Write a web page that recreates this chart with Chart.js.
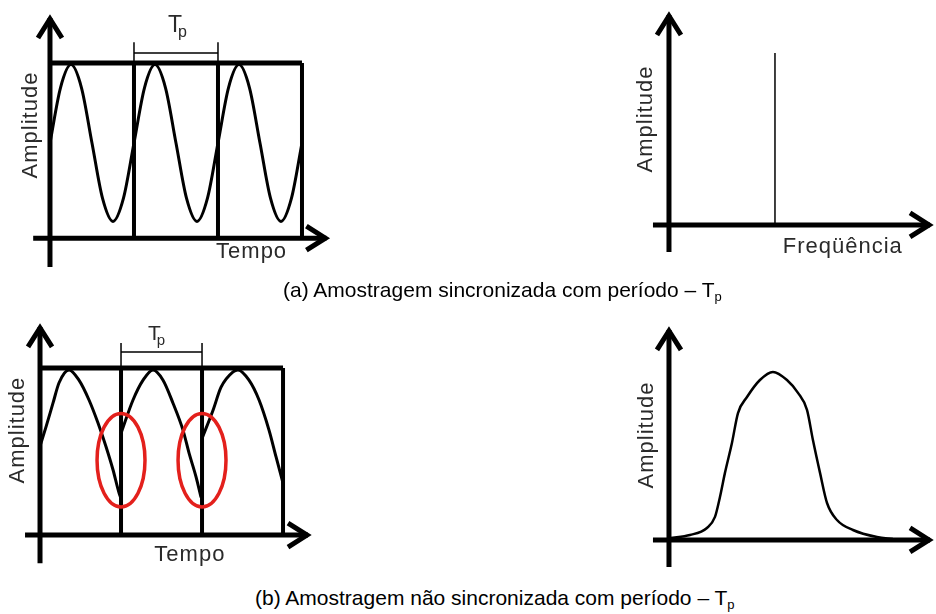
<!DOCTYPE html>
<html>
<head>
<meta charset="utf-8">
<script src="https://cdn.jsdelivr.net/npm/chart.js@4.4.1/dist/chart.umd.min.js"></script>
<style>
  html, body { margin: 0; padding: 0; background: #fff; }
  #page { position: relative; width: 936px; height: 614px; overflow: hidden; }
  #page canvas { position: absolute; }
  .caption { position: absolute; font-family: "Liberation Sans", Arial, sans-serif; font-size: 21px; color: #000; white-space: nowrap; }
  .caption sub { font-size: 0.62em; vertical-align: -0.3em; line-height: 0; }
</style>
</head>
<body>
<div id="page">
  <canvas id="syncTimeChart" width="345" height="280" style="left:0;top:0"></canvas>
  <canvas id="syncSpecChart" width="316" height="280" style="left:620px;top:0"></canvas>
  <canvas id="unsyncTimeChart" width="345" height="280" style="left:0;top:300px"></canvas>
  <canvas id="unsyncSpecChart" width="316" height="280" style="left:620px;top:300px"></canvas>
  <div class="caption" style="left:283px;top:278px">(a) Amostragem sincronizada com período – T<sub>p</sub></div>
  <div class="caption" style="left:255px;top:586px">(b) Amostragem não sincronizada com período – T<sub>p</sub></div>
</div>
<script>
// ── data ──
// (a) synchronized: time in periods (Tp), amplitude relative to the window top
const syncTime = [0, 0.125, 0.25, 0.375, 0.5, 0.625, 0.75, 0.875,
                  1, 1.125, 1.25, 1.375, 1.5, 1.625, 1.75, 1.875,
                  2, 2.125, 2.25, 2.375, 2.5, 2.625, 2.75, 2.875, 3];
const syncAmp  = [0, 0.69, 0.98, 0.69, 0, -0.69, -0.98, -0.69,
                  0, 0.69, 0.98, 0.69, 0, -0.69, -0.98, -0.69,
                  0, 0.69, 0.98, 0.69, 0, -0.69, -0.98, -0.69, 0];
const syncEdges = [1, 2];          // window boundaries
const syncFreq = [1];               // single spectral line
const syncMag  = [1];

// (b) not synchronized: the signal restarts at every window boundary
const unsyncTime = [
  [0, 0.074, 0.16, 0.235, 0.358, 0.481, 0.605, 0.716, 0.815, 0.901, 0.975, 1.0],
  [1.0, 1.148, 1.272, 1.395, 1.519, 1.642, 1.765, 1.84, 1.926, 1.988],
  [2.0, 2.136, 2.235, 2.383, 2.444, 2.58, 2.704, 2.827, 2.914, 3.0]
];
const unsyncAmp = [
  [-0.22, 0.08, 0.45, 0.77, 0.97, 0.81, 0.5, 0.14, -0.23, -0.59, -0.95, -1.04],
  [-0.02, 0.5, 0.81, 0.97, 0.81, 0.45, 0.03, -0.33, -0.7, -1.02],
  [-0.1, 0.34, 0.7, 0.94, 0.97, 0.81, 0.5, 0.03, -0.39, -0.8]
];
const unsyncEdges = [1, 2];
const jumpCenters = [1, 2];        // red marks around the discontinuities
const jumpLevel = -0.44;
// leaked spectrum
const leakFreq = [0.01, 0.198, 0.358, 0.434, 0.481, 0.528, 0.594, 0.651, 0.736, 0.858, 0.981,
                  1.113, 1.217, 1.302, 1.358, 1.425, 1.491, 1.585, 1.736, 1.962, 2.113];
const leakMag  = [0.012, 0.029, 0.07, 0.134, 0.25, 0.39, 0.564, 0.738, 0.831, 0.93, 0.977,
                  0.93, 0.855, 0.756, 0.581, 0.39, 0.215, 0.116, 0.058, 0.017, 0.006];

// ── helpers ──
const INK = '#000';
const LABEL_FONT = '"Liberation Sans", Arial, sans-serif';

function zip(xs, ys) { return xs.map((v, i) => ({ x: v, y: ys[i] })); }

function line(points, width, extra) {
  return Object.assign({
    data: points, showLine: true, pointRadius: 0, borderColor: INK,
    borderWidth: width, tension: 0, clip: false, borderJoinStyle: 'miter'
  }, extra || {});
}

// window frame: top edge, right edge and the inner boundary bars
function windowFrame(edges, end, top, floor) {
  const sets = [
    line([{ x: 0, y: top }, { x: end, y: top }], 5),
    line([{ x: end, y: floor }, { x: end, y: top }], 4)
  ];
  edges.forEach(e => sets.push(line([{ x: e, y: floor }, { x: e, y: top }], 4)));
  return sets;
}

function drawArrow(ctx, x0, y0, x1, y1) {
  const ang = Math.atan2(y1 - y0, x1 - x0);
  const len = Math.hypot(x1 - x0, y1 - y0);
  ctx.save();
  ctx.translate(x1, y1);
  ctx.rotate(ang);
  ctx.lineWidth = 5;
  ctx.lineCap = 'butt';
  ctx.beginPath(); ctx.moveTo(-len, 0); ctx.lineTo(-5, 0); ctx.stroke();
  ctx.lineJoin = 'miter';
  ctx.beginPath(); ctx.moveTo(-25, -12); ctx.lineTo(-6, 0); ctx.lineTo(-25, 12); ctx.stroke();
  ctx.restore();
}

function diagram(deco) {
  return {
    id: 'diagram',
    afterDatasetsDraw(chart) {
      const { ctx } = chart;
      const X = v => chart.scales.x.getPixelForValue(v);
      const Y = v => chart.scales.y.getPixelForValue(v);
      ctx.save();
      ctx.strokeStyle = INK;
      ctx.fillStyle = INK;

      const a = deco.axes;
      drawArrow(ctx, X(a.xFrom), Y(a.xAt), X(a.xTo), Y(a.xAt));
      drawArrow(ctx, X(a.yAt), Y(a.yFrom), X(a.yAt), Y(a.yTo));

      if (deco.bracket) {
        const b = deco.bracket;
        ctx.lineWidth = 1.5;
        ctx.beginPath();
        ctx.moveTo(X(b.from), Y(b.at)); ctx.lineTo(X(b.to), Y(b.at));
        ctx.moveTo(X(b.from), Y(b.tickLo)); ctx.lineTo(X(b.from), Y(b.tickHi));
        ctx.moveTo(X(b.to), Y(b.tickLo)); ctx.lineTo(X(b.to), Y(b.tickHi));
        ctx.stroke();
      }

      if (deco.marks) {
        const m = deco.marks;
        ctx.strokeStyle = '#e3201c';
        ctx.lineWidth = 3.5;
        m.centers.forEach(c => {
          const rx = Math.abs(X(c + m.rx) - X(c));
          const ry = Math.abs(Y(m.level + m.ry) - Y(m.level));
          ctx.beginPath();
          ctx.ellipse(X(c), Y(m.level), rx, ry, 0, 0, Math.PI * 2);
          ctx.stroke();
        });
      }

      ctx.fillStyle = '#2a2a2a';
      ctx.letterSpacing = '1px';
      (deco.labels || []).forEach(l => {
        ctx.save();
        ctx.font = l.size + 'px ' + LABEL_FONT;
        ctx.textAlign = 'center';
        ctx.textBaseline = 'alphabetic';
        ctx.translate(X(l.x), Y(l.y));
        if (l.vertical) ctx.rotate(-Math.PI / 2);
        ctx.fillText(l.text, 0, 0);
        ctx.restore();
      });

      if (deco.period) {
        const p = deco.period;
        ctx.letterSpacing = '0px';
        ctx.textAlign = 'left';
        ctx.textBaseline = 'alphabetic';
        ctx.font = p.size + 'px ' + LABEL_FONT;
        const tw = ctx.measureText('T').width;
        ctx.fillText('T', X(p.x), Y(p.y));
        ctx.font = Math.round(p.size * 0.7) + 'px ' + LABEL_FONT;
        ctx.fillText('p', X(p.x) + tw - 4, Y(p.y) + 5);
      }
      ctx.restore();
    }
  };
}

function makePanel(id, xRange, yRange, datasets, deco) {
  return new Chart(document.getElementById(id), {
    type: 'scatter',
    data: { datasets: datasets },
    options: {
      responsive: false,
      animation: false,
      events: [],
      layout: { padding: 0 },
      plugins: { legend: { display: false }, tooltip: { enabled: false } },
      scales: {
        x: { type: 'linear', display: false, min: xRange[0], max: xRange[1] },
        y: { type: 'linear', display: false, min: yRange[0], max: yRange[1] }
      }
    },
    plugins: [diagram(deco)]
  });
}

// ── (a) time domain ──
makePanel('syncTimeChart', [-0.595, 3.512], [-1.7125, 1.7875],
  [line(zip(syncTime, syncAmp), 3, { cubicInterpolationMode: 'monotone' })]
    .concat(windowFrame(syncEdges, 3, 1, -1.19)),
  {
    axes: { xAt: -1.19, xFrom: -0.2, xTo: 3.35, yAt: 0, yFrom: -1.55, yTo: 1.625 },
    bracket: { from: 1, to: 2, at: 1.125, tickLo: 1, tickHi: 1.26 },
    period: { x: 1.405, y: 1.3875, size: 23 },
    labels: [
      { text: 'Amplitude', x: -0.155, y: 0.225, size: 22, vertical: true },
      { text: 'Tempo', x: 2.4, y: -1.4375, size: 22 }
    ]
  });

// ── (a) spectrum ──
makePanel('syncSpecChart', [-0.462, 2.519], [-0.32, 1.308],
  syncFreq.map((f, i) => line([{ x: f, y: 0 }, { x: f, y: syncMag[i] }], 1.5)),
  {
    axes: { xAt: 0, xFrom: -0.151, xTo: 2.51, yAt: 0, yFrom: -0.157, yTo: 1.25 },
    labels: [
      { text: 'Amplitude', x: -0.16, y: 0.616, size: 22, vertical: true },
      { text: 'Freqüência', x: 1.64, y: -0.163, size: 22 }
    ]
  });

// ── (b) time domain ──
makePanel('unsyncTimeChart', [-0.494, 3.765], [-2.3125, 2.0625],
  unsyncTime.map((ts, i) => line(zip(ts, unsyncAmp[i]), 3, { cubicInterpolationMode: 'monotone' }))
    .concat(windowFrame(unsyncEdges, 3, 1, -1.61)),
  {
    axes: { xAt: -1.61, xFrom: -0.185, xTo: 3.37, yAt: 0, yFrom: -2.05, yTo: 1.72 },
    bracket: { from: 1, to: 2, at: 1.25, tickLo: 1, tickHi: 1.39 },
    period: { x: 1.333, y: 1.4375, size: 21 },
    marks: { centers: jumpCenters, level: jumpLevel, rx: 0.296, ry: 0.73 },
    labels: [
      { text: 'Amplitude', x: -0.198, y: 0.03, size: 22, vertical: true },
      { text: 'Tempo', x: 1.85, y: -2.02, size: 22 }
    ]
  });

// ── (b) spectrum ──
makePanel('unsyncSpecChart', [-0.462, 2.519], [-0.2326, 1.395],
  [line(zip(leakFreq, leakMag), 2.5, { cubicInterpolationMode: 'monotone' })],
  {
    axes: { xAt: 0, xFrom: -0.151, xTo: 2.51, yAt: 0, yFrom: -0.157, yTo: 1.25 },
    labels: [
      { text: 'Amplitude', x: -0.151, y: 0.61, size: 22, vertical: true }
    ]
  });
</script>
</body>
</html>
